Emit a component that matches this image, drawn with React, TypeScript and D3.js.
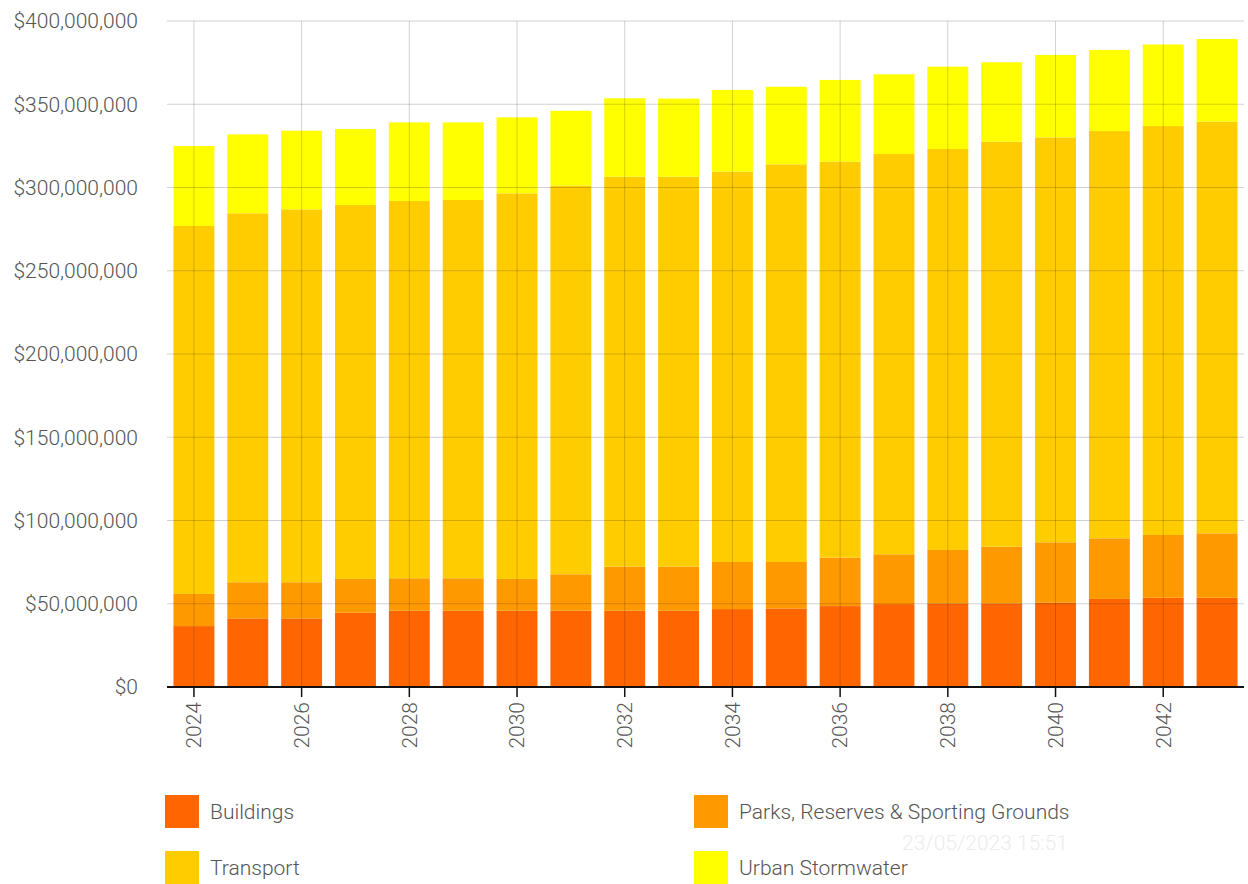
import React from "react";
import * as d3 from "d3";

const years = ["2024","2025","2026","2027","2028","2029","2030","2031","2032","2033","2034","2035","2036","2037","2038","2039","2040","2041","2042","2043"];
// values in millions of dollars
const buildings = [36.6, 41.2, 41.2, 44.6, 45.8, 45.8, 45.8, 45.8, 45.8, 45.8, 46.8, 47.2, 48.6, 49.8, 50.2, 50.2, 50.6, 52.9, 53.6, 53.6];
const parks = [19.3, 21.7, 21.7, 20.3, 19.5, 19.5, 19.1, 21.9, 26.5, 26.5, 28.3, 27.9, 29.1, 29.9, 32.1, 34.1, 36.3, 36.4, 37.7, 38.7];
const transport = [221.0, 221.6, 224.0, 224.6, 226.6, 227.2, 231.6, 233.4, 234.2, 234.2, 234.4, 238.8, 237.8, 240.4, 240.8, 243.2, 243.2, 244.6, 245.6, 247.2];
const stormwater = [48.0, 47.4, 47.2, 45.6, 47.2, 46.6, 45.6, 45.0, 47.1, 46.9, 49.1, 46.6, 49.1, 47.9, 49.5, 47.7, 49.5, 48.7, 49.0, 49.7];
const seriesNames = ["Buildings", "Parks, Reserves & Sporting Grounds", "Transport", "Urban Stormwater"];
const seriesColors = ["#ff6600", "#ff9900", "#ffcc00", "#ffff00"];
const yTicks = [0, 50, 100, 150, 200, 250, 300, 350, 400];
const xTickYears = ["2024","2026","2028","2030","2032","2034","2036","2038","2040","2042"];

export default function App() {
  const W = 1248, H = 884;
  const left = 167, right = 1244, top = 21, bottom = 687;
  const x = d3.scaleBand<string>().domain(years).range([left, right]).paddingInner(0.24).paddingOuter(0.12);
  const y = d3.scaleLinear().domain([0, 400e6]).range([bottom, top]);
  const rows = years.map((yr, i) => ({
    year: yr,
    s0: buildings[i] * 1e6,
    s1: parks[i] * 1e6,
    s2: transport[i] * 1e6,
    s3: stormwater[i] * 1e6,
  }));
  const stack = d3.stack<any>().keys(["s0", "s1", "s2", "s3"]);
  const layers = stack(rows);
  const fmt = (v: number) => "$" + d3.format(",")(v);
  const font = "Roboto, 'Open Sans', sans-serif";
  const textColor = "#555";

  const legend = [
    { i: 0, x: 165, y: 795 },
    { i: 1, x: 694, y: 795 },
    { i: 2, x: 165, y: 851 },
    { i: 3, x: 694, y: 851 },
  ];

  return (
    <svg width={W} height={H} style={{ position: "absolute", left: 0, top: 0, background: "#fff" }} fontFamily={font} fontWeight={300}>
      {layers.map((layer, li) => (
        <g key={li} fill={seriesColors[li]}>
          {layer.map((d, j) => (
            <rect key={j} x={x(years[j])} width={x.bandwidth()} y={y(d[1])} height={y(d[0]) - y(d[1])} />
          ))}
        </g>
      ))}
      {/* horizontal grid */}
      {yTicks.map((t) => (
        <line key={"h" + t} x1={left} x2={right} y1={y(t * 1e6)} y2={y(t * 1e6)} stroke="#000" strokeOpacity={0.18} strokeWidth={1} />
      ))}
      {/* vertical grid */}
      {xTickYears.map((yr) => {
        const cx = (x(yr) as number) + x.bandwidth() / 2;
        return <line key={"v" + yr} x1={cx} x2={cx} y1={top} y2={bottom} stroke="#000" strokeOpacity={0.18} strokeWidth={1} />;
      })}
      {/* y labels */}
      {yTicks.map((t) => (
        <text key={"yl" + t} x={138} y={y(t * 1e6)} dy="0.35em" textAnchor="end" fontSize={21} fill={textColor}>
          {fmt(t * 1e6)}
        </text>
      ))}
      {/* x axis */}
      <line x1={left} x2={right} y1={bottom} y2={bottom} stroke="#111" strokeWidth={2} />
      {xTickYears.map((yr) => {
        const cx = (x(yr) as number) + x.bandwidth() / 2;
        return (
          <g key={"xt" + yr}>
            <line x1={cx} x2={cx} y1={bottom} y2={bottom + 10} stroke="#111" strokeWidth={1.5} />
            <text transform={`translate(${cx},${bottom + 15}) rotate(-90)`} textAnchor="end" dy="0.35em" fontSize={21} fill={textColor}>
              {yr}
            </text>
          </g>
        );
      })}
      {/* watermark */}
      <text x={985} y={843} dy="0.35em" textAnchor="middle" fontSize={21} fill="#ececec">23/05/2023 15:51</text>
      {/* legend */}
      {legend.map((l) => (
        <g key={"lg" + l.i}>
          <rect x={l.x} y={l.y} width={34} height={33} fill={seriesColors[l.i]} />
          <text x={l.x + 45} y={l.y + 16.5} dy="0.35em" fontSize={21} fill={textColor}>{seriesNames[l.i]}</text>
        </g>
      ))}
    </svg>
  );
}
